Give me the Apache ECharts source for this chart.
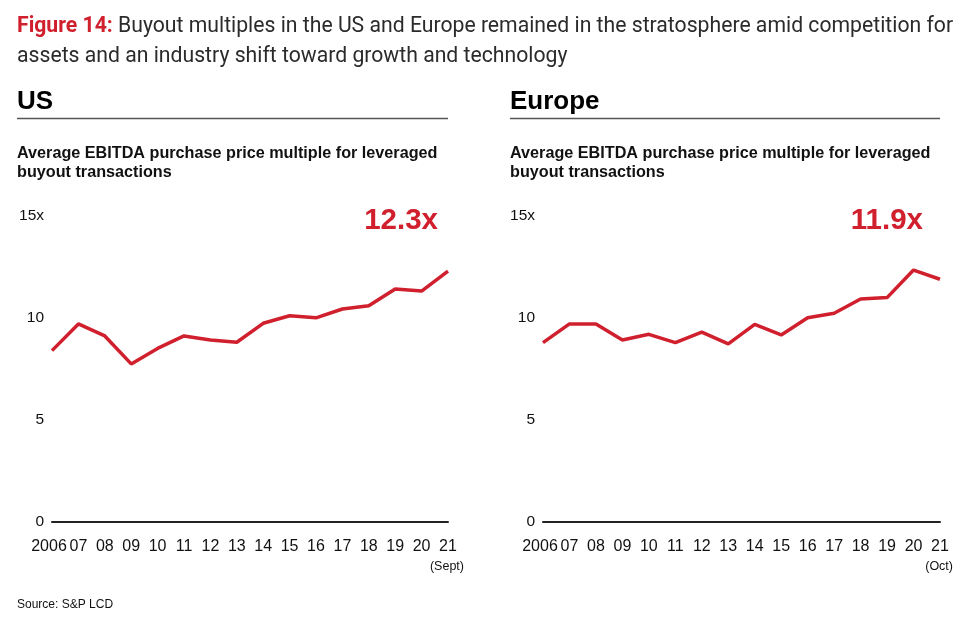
<!DOCTYPE html>
<html>
<head>
<meta charset="utf-8">
<script src="https://cdn.jsdelivr.net/npm/echarts@6/dist/echarts.min.js"></script>
<style>
html,body{margin:0;padding:0;background:#fff;}
#chart{width:976px;height:623px;}
</style>
</head>
<body>
<div id="chart"></div>
<script>
const years = ['2006','07','08','09','10','11','12','13','14','15','16','17','18','19','20','21'];
const usValues = [8.40, 9.71, 9.12, 7.75, 8.51, 9.12, 8.92, 8.81, 9.74, 10.11, 10.01, 10.44, 10.60, 11.42, 11.32, 12.3];
const europeValues = [8.79, 9.71, 9.71, 8.92, 9.20, 8.79, 9.31, 8.73, 9.69, 9.17, 10.01, 10.23, 10.93, 11.0, 12.35, 11.9];
const yTickLabels = {0:'0', 5:'5', 10:'10', 15:'15x'};

const RED = '#d0202e';
const FONT = '"Liberation Sans", Arial, sans-serif';

function xAxisCfg(gridIndex){
  return {
    type:'category', gridIndex, data: years, boundaryGap:false,
    axisLine:{show:true, lineStyle:{color:'#222', width:2}},
    axisTick:{show:false},
    axisLabel:{color:'#111', fontSize:16, fontFamily:FONT, margin:17, interval:0,
      formatter:(v, i) => i === 0 ? '{a|' + v + '}' : v,
      rich:{a:{fontSize:16, fontFamily:FONT, color:'#111', padding:[0,6,0,0]}}
    }
  };
}
function yAxisCfg(gridIndex){
  return {
    type:'value', gridIndex, min:0, max:15, interval:5,
    axisLine:{show:false}, axisTick:{show:false}, splitLine:{show:false},
    axisLabel:{color:'#111', fontSize:15.5, fontFamily:FONT, margin:8, padding:[0,0,7,0],
      formatter: v => yTickLabels[v] !== undefined ? yTickLabels[v] : ''}
  };
}

const chart = echarts.init(document.getElementById('chart'), null, {renderer:'canvas'});
chart.setOption({
  animation:false,
  backgroundColor:'#fff',
  title:{
    left:17, top:12, padding:0,
    text:'{r|Figure 14:} Buyout multiples in the US and Europe remained in the stratosphere amid competition for\nassets and an industry shift toward growth and technology',
    textStyle:{
      fontFamily:'Roboto, sans-serif', fontSize:21.2, fontWeight:'normal', color:'#2b2b2b', lineHeight:30,
      rich:{ r:{ fontFamily:'Roboto, sans-serif', fontSize:21.2, fontWeight:'bold', color:RED, lineHeight:30 } }
    }
  },
  grid:[
    {left:52, top:216, width:396, height:306},
    {left:543, top:216, width:397, height:306}
  ],
  xAxis:[xAxisCfg(0), xAxisCfg(1)],
  yAxis:[yAxisCfg(0), yAxisCfg(1)],
  series:[
    {type:'line', xAxisIndex:0, yAxisIndex:0, data:usValues, showSymbol:false, lineStyle:{color:RED, width:3.5}, itemStyle:{color:RED}},
    {type:'line', xAxisIndex:1, yAxisIndex:1, data:europeValues, showSymbol:false, lineStyle:{color:RED, width:3.5}, itemStyle:{color:RED}}
  ],
  graphic:[
    {type:'text', left:17, top:89, style:{text:'US', font:'bold 26px '+FONT, fill:'#000'}},
    {type:'text', left:510, top:89, style:{text:'Europe', font:'bold 26px '+FONT, fill:'#000'}},
    {type:'line', shape:{x1:17, y1:118.5, x2:448, y2:118.5}, style:{stroke:'#555', lineWidth:1.5}},
    {type:'line', shape:{x1:510, y1:118.5, x2:940, y2:118.5}, style:{stroke:'#555', lineWidth:1.5}},
    {type:'text', left:17, top:143.5, style:{text:'Average EBITDA purchase price multiple for leveraged\nbuyout transactions', font:'bold 16.2px '+FONT, fill:'#111', lineHeight:19.5}},
    {type:'text', left:510, top:143.5, style:{text:'Average EBITDA purchase price multiple for leveraged\nbuyout transactions', font:'bold 16.2px '+FONT, fill:'#111', lineHeight:19.5}},
    {type:'text', right:976-438, top:206, style:{text:'12.3x', font:'bold 29.5px '+FONT, fill:RED}},
    {type:'text', right:976-923, top:206, style:{text:'11.9x', font:'bold 29.5px '+FONT, fill:RED}},
    {type:'text', right:976-464, top:560, style:{text:'(Sept)', font:'12.5px '+FONT, fill:'#111'}},
    {type:'text', right:976-953, top:560, style:{text:'(Oct)', font:'12.5px '+FONT, fill:'#111'}},
    {type:'text', left:17, top:599, style:{text:'Source: S&P LCD', font:'12px '+FONT, fill:'#111'}}
  ]
});
</script>
</body>
</html>
